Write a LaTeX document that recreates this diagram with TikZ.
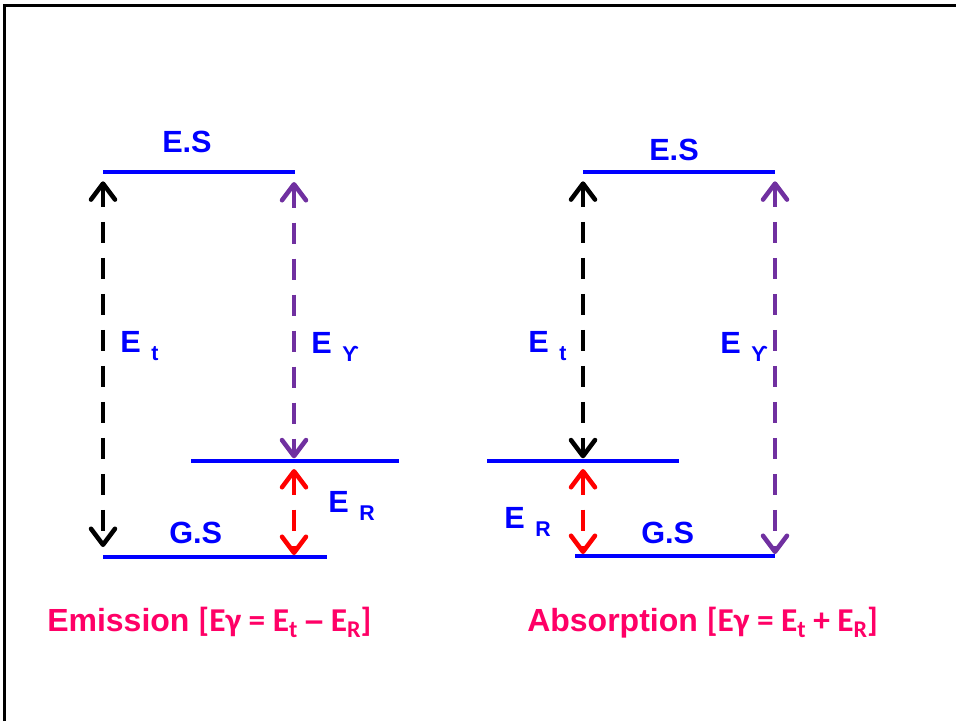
\documentclass[tikz,border=0pt]{standalone}
\usepackage{fontspec}
\setmainfont{Liberation Sans}
\newfontfamily\calib{Carlito}
\newfontfamily\arialb{Liberation Sans}
\usetikzlibrary{arrows.meta}
\definecolor{lvlblue}{RGB}{0,0,255}
\definecolor{photon}{RGB}{112,48,160}
\definecolor{capred}{RGB}{255,0,102}
% energy label with lowered index
\newcommand{\elab}[1]{E\hspace{8pt}\raisebox{-6pt}{\fontsize{16}{16}\selectfont #1}}
\newcommand{\csub}[1]{\raisebox{-5pt}{\fontsize{18}{18}\selectfont #1}}

\begin{document}
\begin{tikzpicture}[x=0.75pt, y=-0.75pt,
  every node/.style={inner sep=0pt},
  level/.style={lvlblue, line width=3pt},
  trans/.style={line width=3.4pt, dash pattern=on 16pt off 11pt, {Straight Barb[length=12pt, width=18pt, round]}-{Straight Barb[length=12pt, width=18pt, round]}},
  lbl/.style={lvlblue, font=\bfseries\fontsize{23}{23}\selectfont, anchor=base west},
  caption/.style={capred, font=\bfseries\fontsize{24}{24}\selectfont, anchor=base west}]
\useasboundingbox (0,0) rectangle (956,721);
% frame
\draw[line width=2.25pt] (4.5,721) -- (4.5,5.5) -- (956,5.5);

% emission levels
\coordinate (emES1) at (103,172); \coordinate (emES2) at (295,172);
\coordinate (emMid1) at (191,461); \coordinate (emMid2) at (399,461);
\coordinate (emGS1) at (103,557); \coordinate (emGS2) at (327,557);
\coordinate (emMidA) at (294,461); \coordinate (emGSA) at (294,557);
\coordinate (emESA) at (294,172);
\draw[level] (emES1) -- (emES2);
\draw[level] (emMid1) -- (emMid2);
\draw[level] (emGS1) -- (emGS2);
\node[lbl] (emESlbl) at (162,152) {E.S};
\node[lbl] (emGSlbl) at (169,543) {G.S};
% emission transitions
\draw[trans, black, shorten <=7pt, shorten >=7.5pt] (emES1) -- (emGS1);
\draw[trans, photon, shorten <=7.5pt, shorten >=2pt] (emESA) -- (emMidA);
\draw[trans, red, shorten <=6pt, shorten >=1.5pt] (emMidA) -- (emGSA);
\node[lbl] (emEt) at (120,352) {\elab{t}};
\node[lbl] (emEg) at (311,353) {\elab{ϒ}};
\node[lbl] (emER) at (328,512) {\elab{R}};

% absorption levels
\coordinate (abES1) at (583,172); \coordinate (abES2) at (775,172);
\coordinate (abMid1) at (487,461); \coordinate (abMid2) at (679,461);
\coordinate (abGS1) at (575,556); \coordinate (abGS2) at (775,556);
\coordinate (abMidA) at (583,461); \coordinate (abGSA) at (583,556);
\draw[level] (abES1) -- (abES2);
\draw[level] (abMid1) -- (abMid2);
\draw[level] (abGS1) -- (abGS2);
\node[lbl] (abESlbl) at (649,160) {E.S};
\node[lbl] (abGSlbl) at (641,543) {G.S};
% absorption transitions
\draw[trans, black, shorten <=7pt, shorten >=2pt] (abES1) -- (abMidA);
\draw[trans, photon, shorten <=7pt, shorten >=1.5pt] (abES2) -- (abGS2);
\draw[trans, red, shorten <=6pt, shorten >=1.5pt] (abMidA) -- (abGSA);
\node[lbl] (abEt) at (528,352) {\elab{t}};
\node[lbl] (abEg) at (720,353) {\elab{ϒ}};
\node[lbl] (abER) at (504,528) {\elab{R}};

% captions
\node[caption] (emCap) at (47,631) {Emission {\calib\fontsize{25}{25}\selectfont[Eγ = E\csub{t} {\arialb –} E\csub{R}]}};
\node[caption] (abCap) at (527,631) {Absorption {\calib\fontsize{25}{25}\selectfont[Eγ = E\csub{t} + E\csub{R}]}};
\end{tikzpicture}
\end{document}
